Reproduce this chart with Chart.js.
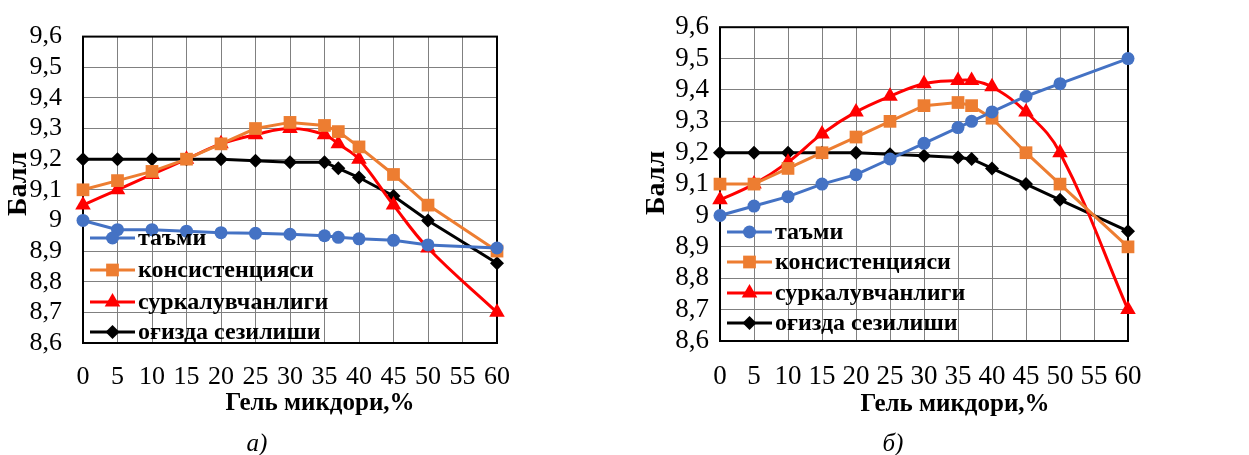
<!DOCTYPE html>
<html>
<head>
<meta charset="utf-8">
<script src="https://cdn.jsdelivr.net/npm/chart.js@4"></script>
<style>
  html, body { margin: 0; padding: 0; background: #fff; }
  #wrap { position: relative; width: 1249px; height: 455px; overflow: hidden; }
  .panel { position: absolute; top: 0; height: 455px; }
</style>
</head>
<body>
<div id="wrap">
  <div class="panel" style="left:0; width:620px;"><canvas id="chartA" width="620" height="455"></canvas></div>
  <div class="panel" style="left:620px; width:629px;"><canvas id="chartB" width="629" height="455"></canvas></div>
</div>
<script>
// Gel amount, %
const gelX = [0, 5, 10, 15, 20, 25, 30, 35, 37, 40, 45, 50, 60];
const seriesNames = ['таъми', 'консистенцияси', 'суркалувчанлиги', 'оғизда сезилиши'];

// а)
const tasteA = [9.00, 8.97, 8.97, 8.965, 8.96, 8.958, 8.955, 8.95, 8.945, 8.94, 8.935, 8.92, 8.91];
const consA  = [9.10, 9.13, 9.16, 9.20, 9.25, 9.30, 9.32, 9.31, 9.29, 9.24, 9.15, 9.05, 8.90];
const smearA = [9.05, 9.10, 9.15, 9.20, 9.25, 9.28, 9.30, 9.28, 9.25, 9.20, 9.05, 8.91, 8.70];
const mouthA = [9.20, 9.20, 9.20, 9.20, 9.20, 9.195, 9.19, 9.19, 9.17, 9.14, 9.08, 9.00, 8.86];

// б)
const tasteB = [9.00, 9.03, 9.06, 9.10, 9.13, 9.18, 9.23, 9.28, 9.30, 9.33, 9.38, 9.42, 9.50];
const consB  = [9.10, 9.10, 9.15, 9.20, 9.25, 9.30, 9.35, 9.36, 9.35, 9.31, 9.20, 9.10, 8.90];
const smearB = [9.05, 9.10, 9.17, 9.26, 9.33, 9.38, 9.42, 9.43, 9.43, 9.41, 9.33, 9.20, 8.70];
const mouthB = [9.20, 9.20, 9.20, 9.20, 9.20, 9.195, 9.19, 9.185, 9.18, 9.15, 9.10, 9.05, 8.95];

const FONT = '"Liberation Serif", "Times New Roman", serif';
Chart.defaults.font.family = FONT;
Chart.defaults.color = '#000';

const styles = [
  { color: '#4472C4', pointStyle: 'circle', radius: 6.5 },
  { color: '#ED7D31', pointStyle: 'rect', radius: 9 },
  { color: '#FF0000', pointStyle: 'triangle', radius: 9 },
  { color: '#000000', pointStyle: 'rectRot', radius: 7 }
];

function toPoints(ys) {
  return gelX.map((x, i) => ({ x: x, y: ys[i] }));
}

function marker(ctx, style, r, x, y) {
  ctx.beginPath();
  if (style === 'circle') {
    ctx.arc(x, y, r, 0, Math.PI * 2);
  } else if (style === 'rect') {
    const s = r * Math.SQRT1_2;
    ctx.rect(x - s, y - s, 2 * s, 2 * s);
  } else if (style === 'triangle') {
    ctx.moveTo(x, y - r);
    ctx.lineTo(x + r * Math.sin(2 * Math.PI / 3), y - r * Math.cos(2 * Math.PI / 3));
    ctx.lineTo(x + r * Math.sin(4 * Math.PI / 3), y - r * Math.cos(4 * Math.PI / 3));
  } else {
    ctx.moveTo(x, y - r); ctx.lineTo(x + r, y); ctx.lineTo(x, y + r); ctx.lineTo(x - r, y);
  }
  ctx.closePath();
  ctx.fill();
}

// frame, legend inside the plot, axis titles and caption
const extras = {
  id: 'extras',
  beforeDatasetsDraw(chart) {
    const { ctx, chartArea: a } = chart;
    ctx.save();
    ctx.strokeStyle = '#000';
    ctx.lineWidth = 2;
    ctx.strokeRect(a.left, a.top, a.right - a.left, a.bottom - a.top);
    ctx.restore();
  },
  afterDatasetsDraw(chart, args, opts) {
    const { ctx, chartArea: a } = chart;
    ctx.save();
    chart.data.datasets.forEach((ds, i) => {
      const y = a.bottom + opts.rows[i];
      const x0 = a.left + opts.legendX;
      const x1 = x0 + 45;
      ctx.strokeStyle = ds.borderColor;
      ctx.fillStyle = ds.borderColor;
      ctx.lineWidth = 3;
      ctx.beginPath(); ctx.moveTo(x0, y); ctx.lineTo(x1, y); ctx.stroke();
      marker(ctx, ds.pointStyle, ds.pointRadius, (x0 + x1) / 2, y);
      ctx.fillStyle = '#000';
      ctx.font = 'bold 24px ' + FONT;
      ctx.textAlign = 'left';
      ctx.textBaseline = 'middle';
      ctx.fillText(ds.label, x1 + 3, y + 1);
    });
    ctx.restore();
  },
  afterDraw(chart, args, opts) {
    const ctx = chart.ctx;
    ctx.save();
    ctx.fillStyle = '#000';
    ctx.textAlign = 'center';
    ctx.textBaseline = 'middle';
    ctx.font = 'bold 25px ' + FONT;
    ctx.fillText('Гель микдори,%', opts.xTitle[0], opts.xTitle[1]);
    ctx.save();
    ctx.translate(opts.yTitle[0], opts.yTitle[1]);
    ctx.rotate(-Math.PI / 2);
    ctx.font = 'bold 28px ' + FONT;
    ctx.fillText('Балл', 0, 0);
    ctx.restore();
    ctx.font = 'italic 25px ' + FONT;
    ctx.fillText(opts.caption, opts.capPos[0], opts.capPos[1]);
    ctx.restore();
  }
};

function makeChart(id, data, smooth, cfg) {
  const datasets = data.map((ys, i) => ({
    label: seriesNames[i],
    data: toPoints(ys),
    borderColor: styles[i].color,
    backgroundColor: styles[i].color,
    pointBackgroundColor: styles[i].color,
    pointBorderColor: styles[i].color,
    pointStyle: styles[i].pointStyle,
    pointRadius: styles[i].radius,
    pointBorderWidth: 0,
    borderWidth: 3,
    tension: smooth[i],
    fill: false,
    clip: false
  }));

  return new Chart(document.getElementById(id), {
    type: 'line',
    data: { datasets },
    plugins: [extras],
    options: {
      responsive: false,
      animation: false,
      layout: { padding: { left: 0, top: cfg.top, right: cfg.right, bottom: 0 } },
      plugins: {
        legend: { display: false },
        tooltip: { enabled: false },
        extras: cfg.extras
      },
      scales: {
        x: {
          type: 'linear',
          min: 0, max: 60,
          ticks: { stepSize: 5, autoSkip: false, padding: cfg.xPad, font: { size: cfg.tickSize }, maxRotation: 0 },
          grid: { color: '#808080', lineWidth: 1, drawTicks: false },
          border: { display: false },
          afterFit(s) { s.height = cfg.xHeight; }
        },
        y: {
          min: 8.6, max: 9.6,
          ticks: {
            stepSize: 0.1, autoSkip: false, padding: cfg.yPad, font: { size: cfg.tickSize },
            callback: v => String(Math.round(v * 10) / 10).replace('.', ',')
          },
          grid: { color: '#808080', lineWidth: 1, drawTicks: false },
          border: { display: false },
          afterFit(s) { s.width = cfg.yWidth; }
        }
      }
    }
  });
}

makeChart('chartA', [tasteA, consA, smearA, mouthA], [0, 0, 0.4, 0], {
  top: 25, right: 123, xHeight: 112, yWidth: 83, xPad: 19, yPad: 21, tickSize: 26,
  extras: {
    rows: [-105, -73, -41, -11], legendX: 7,
    xTitle: [320, 404], yTitle: [19, 184], caption: 'а)', capPos: [257, 444]
  }
});

makeChart('chartB', [tasteB, consB, smearB, mouthB], [0, 0, 0.4, 0], {
  top: 24, right: 121, xHeight: 114, yWidth: 100, xPad: 20, yPad: 11, tickSize: 27,
  extras: {
    rows: [-109, -79, -48, -18], legendX: 7,
    xTitle: [335, 405], yTitle: [37, 183], caption: 'б)', capPos: [273, 444]
  }
});
</script>
</body>
</html>
